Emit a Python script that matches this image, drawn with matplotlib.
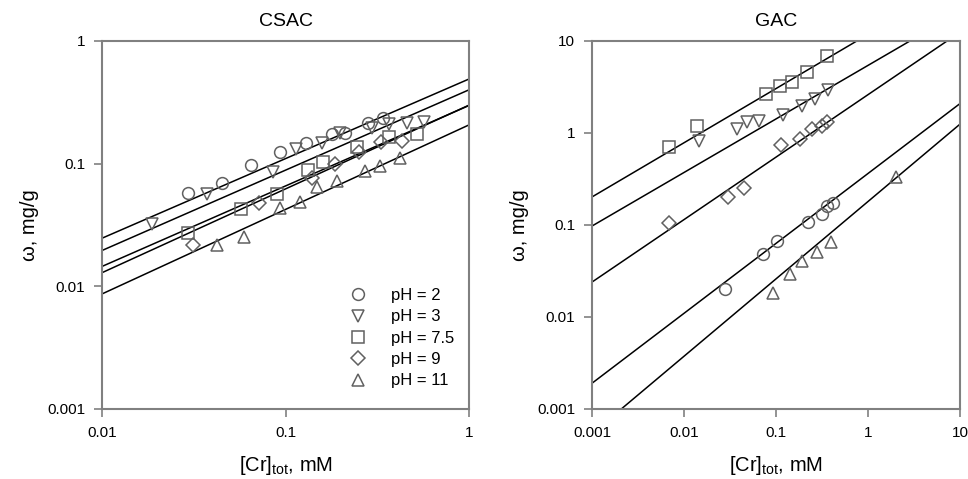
import numpy as np
import matplotlib
matplotlib.use('Agg')
import matplotlib.pyplot as plt
from matplotlib.ticker import FixedLocator, FuncFormatter, NullLocator

plt.rcParams['font.family'] = ['Liberation Sans', 'DejaVu Sans']

# легенда и маркеры
labels = ['pH = 2', 'pH = 3', 'pH = 7.5', 'pH = 9', 'pH = 11']
markers = ['o', 'v', 's', 'D', '^']

# CSAC - данные
csac_x = [
    [0.0295, 0.045, 0.065, 0.093, 0.13, 0.18, 0.21, 0.28, 0.34],
    [0.0187, 0.0375, 0.085, 0.114, 0.159, 0.198, 0.295, 0.368, 0.457, 0.569],
    [0.0295, 0.057, 0.0895, 0.133, 0.16, 0.246, 0.368, 0.522],
    [0.0312, 0.072, 0.14, 0.186, 0.252, 0.33, 0.43],
    [0.0425, 0.0594, 0.0933, 0.12, 0.149, 0.19, 0.271, 0.327, 0.42],
]
csac_y = [
    [0.058, 0.070, 0.098, 0.125, 0.148, 0.175, 0.177, 0.213, 0.234],
    [0.032, 0.057, 0.085, 0.132, 0.147, 0.178, 0.194, 0.211, 0.216, 0.22],
    [0.027, 0.0425, 0.0566, 0.089, 0.1026, 0.138, 0.164, 0.175],
    [0.0217, 0.048, 0.077, 0.10, 0.125, 0.151, 0.154],
    [0.0217, 0.0254, 0.0433, 0.049, 0.064, 0.0727, 0.0877, 0.0958, 0.111],
]
# Freundlich: w = K * c^n
csac_K = [0.49, 0.40, 0.298, 0.30, 0.207]
csac_n = [0.649, 0.655, 0.656, 0.683, 0.689]

# GAC - данные
gac_x = [
    [0.0279, 0.0716, 0.1017, 0.224, 0.314, 0.361, 0.413],
    [0.0147, 0.0373, 0.048, 0.0658, 0.118, 0.19, 0.266, 0.37],
    [0.00692, 0.014, 0.0773, 0.110, 0.148, 0.215, 0.356],
    [0.00692, 0.0303, 0.0449, 0.113, 0.182, 0.244, 0.314, 0.356],
    [0.0935, 0.142, 0.19, 0.281, 0.393, 2.0],
]
gac_y = [
    [0.0201, 0.0484, 0.0675, 0.107, 0.132, 0.162, 0.172],
    [0.826, 1.097, 1.33, 1.36, 1.57, 1.96, 2.32, 2.93],
    [0.71, 1.19, 2.65, 3.24, 3.61, 4.65, 6.87],
    [0.104, 0.20, 0.25, 0.741, 0.854, 1.096, 1.19, 1.33],
    [0.0184, 0.0293, 0.041, 0.0505, 0.0658, 0.33],
]
gac_K = [0.363, 5.43, 11.8, 2.61, 0.18]
gac_n = [0.76, 0.582, 0.589, 0.679, 0.841]

W, H = 968, 479
fig = plt.figure(figsize=(W / 100, H / 100), dpi=100)
ax1 = fig.add_axes([102 / W, 70 / H, 367 / W, 368 / H])
ax2 = fig.add_axes([592 / W, 70 / H, 368 / W, 368 / H])

spine_c = '#808080'
mark_c = '#606060'


def fmt(v, pos):
    return '%g' % v


def setup(ax, xlim, ylim, title):
    ax.set_xscale('log')
    ax.set_yscale('log')
    ax.set_xlim(*xlim)
    ax.set_ylim(*ylim)
    xt = 10.0 ** np.arange(np.log10(xlim[0]), np.log10(xlim[1]) + 0.5)
    yt = 10.0 ** np.arange(np.log10(ylim[0]), np.log10(ylim[1]) + 0.5)
    ax.xaxis.set_major_locator(FixedLocator(xt))
    ax.yaxis.set_major_locator(FixedLocator(yt))
    ax.xaxis.set_minor_locator(NullLocator())
    ax.yaxis.set_minor_locator(NullLocator())
    ax.xaxis.set_major_formatter(FuncFormatter(fmt))
    ax.yaxis.set_major_formatter(FuncFormatter(fmt))
    ax.tick_params(direction='out', length=6, width=1.2, color=spine_c,
                   labelsize=11, pad=6)
    for s in ax.spines.values():
        s.set_color(spine_c)
        s.set_linewidth(1.5)
    ax.set_title(title, fontsize=14, pad=11)
    ax.set_xlabel('[Cr]$_\\mathregular{tot}$, mM', fontsize=14.5, labelpad=10)
    ax.set_ylabel('ω, mg/g', fontsize=14.5, labelpad=6)


def draw(ax, xs, ys, Ks, ns, xlim):
    xx = np.logspace(np.log10(xlim[0]), np.log10(xlim[1]), 100)
    handles = []
    for i in range(len(xs)):
        ax.plot(xx, Ks[i] * xx ** ns[i], color='black', lw=1.1, zorder=2)
        ms = 7 if markers[i] == 'D' else 8.5
        h, = ax.plot(xs[i], ys[i], linestyle='none', marker=markers[i], ms=ms,
                     mfc='none', mec=mark_c, mew=1.1, zorder=3, label=labels[i])
        handles.append(h)
    return handles


h = draw(ax1, csac_x, csac_y, csac_K, csac_n, (0.01, 1))
setup(ax1, (0.01, 1), (0.001, 1), 'CSAC')
draw(ax2, gac_x, gac_y, gac_K, gac_n, (0.001, 10))
setup(ax2, (0.001, 10), (0.001, 10), 'GAC')

ax1.legend(handles=h, loc='lower right', bbox_to_anchor=(1.0, 0.015),
           frameon=False, fontsize=12, handletextpad=1.35, labelspacing=0.38,
           handlelength=1.2)

fig.savefig('out.png', dpi=100)
